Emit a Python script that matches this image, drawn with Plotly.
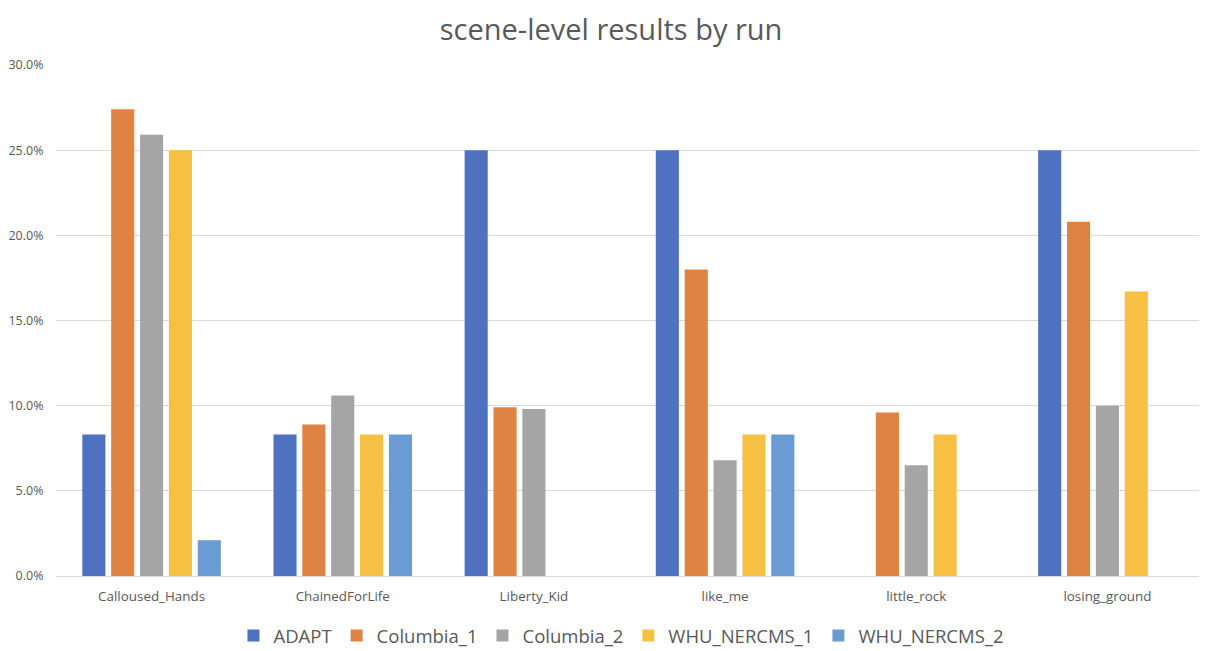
import plotly.graph_objects as go

categories = ["Calloused_Hands", "ChainedForLife", "Liberty_Kid", "like_me", "little_rock", "losing_ground"]
adapt = [8.3, 8.3, 25.0, 25.0, 0.0, 25.0]
columbia_1 = [27.4, 8.9, 9.9, 18.0, 9.6, 20.8]
columbia_2 = [25.9, 10.6, 9.8, 6.8, 6.5, 10.0]
whu_nercms_1 = [25.0, 8.3, 0.0, 8.3, 8.3, 16.7]
whu_nercms_2 = [2.1, 8.3, 0.0, 8.3, 0.0, 0.0]
y_ticks = [0, 5, 10, 15, 20, 25, 30]
y_tick_labels = [f"{v:.1f}%" for v in y_ticks]

series = [
    ("ADAPT", adapt, "#4E72BF"),
    ("Columbia_1", columbia_1, "#DF8344"),
    ("Columbia_2", columbia_2, "#A5A5A5"),
    ("WHU_NERCMS_1", whu_nercms_1, "#F6C143"),
    ("WHU_NERCMS_2", whu_nercms_2, "#6A9BD3"),
]

fig = go.Figure()
for name, vals, color in series:
    fig.add_trace(go.Bar(name=name, x=categories, y=vals, marker_color=color,
                         marker_line_width=0))

font_family = "Open Sans, Liberation Sans, sans-serif"
fig.update_layout(
    width=1199, height=643,
    paper_bgcolor="white", plot_bgcolor="white",
    margin=dict(l=48, r=4, t=57, b=75, autoexpand=False),
    barmode="group", bargap=0.245, bargroupgap=0.2,
    title=dict(text="scene-level results by run", x=0.503, xanchor="center",
               y=0.966, yanchor="middle",
               font=dict(family=font_family, size=29, color="#595959")),
    legend=dict(orientation="h", x=0.493, xanchor="center", y=-0.08, yanchor="top",
                font=dict(family=font_family, size=18.5, color="#595959"),
                traceorder="normal", itemwidth=30),
    font=dict(family=font_family, color="#595959"),
)
fig.update_yaxes(range=[0, 30], tickvals=y_ticks, ticktext=y_tick_labels,
                 showgrid=True, gridcolor="#D9D9D9", gridwidth=1.3,
                 zeroline=True, zerolinecolor="#D9D9D9", zerolinewidth=1.3,
                 showline=False, ticks="outside", ticklen=9,
                 tickcolor="rgba(0,0,0,0)", automargin=False,
                 tickfont=dict(size=12.5, color="#595959"))
fig.update_xaxes(showgrid=False, showline=False, ticks="outside", ticklen=8,
                 tickcolor="rgba(0,0,0,0)", automargin=False,
                 tickfont=dict(size=13.4, color="#595959"))

fig.write_html("out.html")
